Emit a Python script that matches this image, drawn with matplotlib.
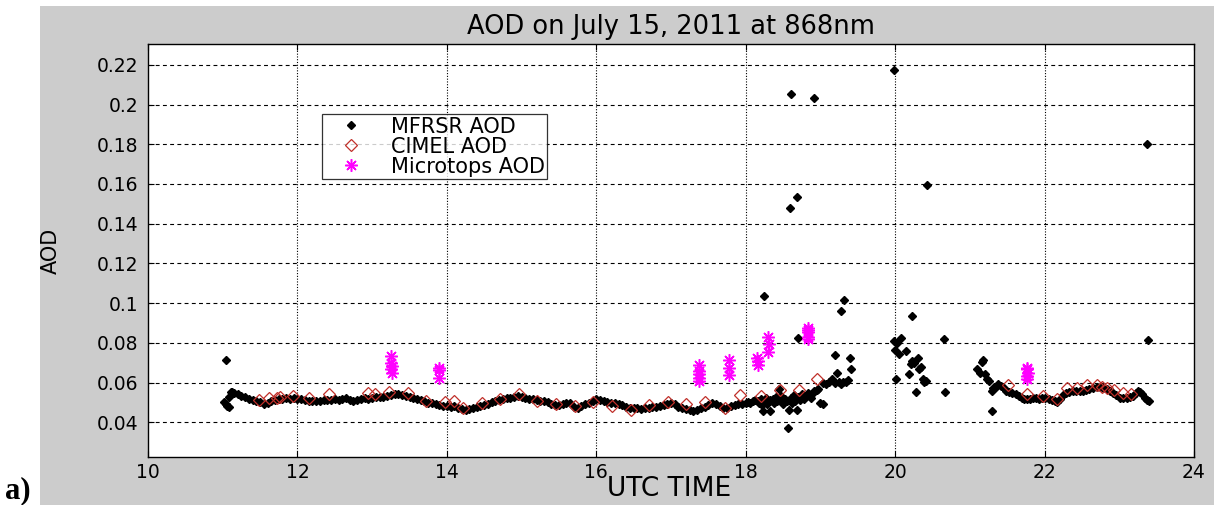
import matplotlib
matplotlib.use("Agg")
import matplotlib.pyplot as plt
from matplotlib.patches import Rectangle

# MFRSR: dense morning/afternoon record (UTC hours, AOD at 868 nm)
mfrsr_band_time = [
    11.15, 11.20, 11.25, 11.30, 11.35, 11.40, 11.45, 11.50, 11.55, 11.60,
    11.65, 11.70, 11.75, 11.80, 11.85, 11.90, 11.95, 12.00, 12.05, 12.10,
    12.15, 12.20, 12.25, 12.30, 12.35, 12.40, 12.45, 12.50, 12.55, 12.60,
    12.65, 12.70, 12.75, 12.80, 12.85, 12.90, 12.95, 13.00, 13.05, 13.10,
    13.15, 13.20, 13.25, 13.30, 13.35, 13.40, 13.45, 13.50, 13.55, 13.60,
    13.65, 13.70, 13.75, 13.80, 13.85, 13.90, 13.95, 14.00, 14.05, 14.10,
    14.15, 14.20, 14.25, 14.30, 14.35, 14.40, 14.45, 14.50, 14.55, 14.60,
    14.65, 14.70, 14.75, 14.80, 14.85, 14.90, 14.95, 15.00, 15.05, 15.10,
    15.15, 15.20, 15.25, 15.30, 15.35, 15.40, 15.45, 15.50, 15.55, 15.60,
    15.65, 15.70, 15.75, 15.80, 15.85, 15.90, 15.95, 16.00, 16.05, 16.10,
    16.15, 16.20, 16.25, 16.30, 16.35, 16.40, 16.45, 16.50, 16.55, 16.60,
    16.65, 16.70, 16.75, 16.80, 16.85, 16.90, 16.95, 17.00, 17.05, 17.10,
    17.15, 17.20, 17.25, 17.30, 17.35, 17.40, 17.45, 17.50, 17.55, 17.60,
    17.65, 17.70, 17.75, 17.80, 17.85, 17.90, 17.95,
]
mfrsr_band_aod = [
    0.0548, 0.0541, 0.0533, 0.0526, 0.0519, 0.0512, 0.0508, 0.0502, 0.0492, 0.0499,
    0.0509, 0.0514, 0.0519, 0.0516, 0.0521, 0.0518, 0.0522, 0.0519, 0.0515, 0.0512,
    0.0508, 0.0505, 0.0509, 0.0507, 0.0511, 0.0514, 0.0512, 0.0516, 0.0513, 0.0518,
    0.0521, 0.0512, 0.0505, 0.0510, 0.0516, 0.0520, 0.0517, 0.0522, 0.0526, 0.0529,
    0.0527, 0.0533, 0.0537, 0.0541, 0.0544, 0.0538, 0.0532, 0.0527, 0.0522, 0.0518,
    0.0511, 0.0506, 0.0499, 0.0495, 0.0491, 0.0488, 0.0484, 0.0481, 0.0477, 0.0482,
    0.0471, 0.0467, 0.0463, 0.0468, 0.0474, 0.0478, 0.0481, 0.0488, 0.0494, 0.0503,
    0.0508, 0.0512, 0.0516, 0.0521, 0.0524, 0.0528, 0.0531, 0.0529, 0.0524, 0.0519,
    0.0515, 0.0511, 0.0508, 0.0506, 0.0501, 0.0494, 0.0487, 0.0489, 0.0494, 0.0498,
    0.0496, 0.0478, 0.0472, 0.0481, 0.0490, 0.0497, 0.0509, 0.0519, 0.0514, 0.0508,
    0.0504, 0.0499, 0.0495, 0.0491, 0.0486, 0.0479, 0.0474, 0.0470, 0.0472, 0.0469,
    0.0471, 0.0474, 0.0477, 0.0479, 0.0482, 0.0488, 0.0494, 0.0499, 0.0493, 0.0478,
    0.0470, 0.0466, 0.0461, 0.0459, 0.0464, 0.0471, 0.0478, 0.0487, 0.0497, 0.0492,
    0.0483, 0.0474, 0.0472, 0.0481, 0.0487, 0.0491, 0.0494,
]

# MFRSR: start of record, cloudy afternoon scatter and isolated spikes
mfrsr_scatter_time = [
    11.02, 11.04, 11.06, 11.08, 11.09, 11.11, 11.13, 11.05,
    18.00, 18.03, 18.06, 18.10, 18.13, 18.16, 18.18, 18.20, 18.22, 18.23,
    18.25, 18.27, 18.29, 18.32, 18.33, 18.36, 18.38, 18.40, 18.42, 18.45,
    18.47, 18.50, 18.52, 18.55, 18.57, 18.58, 18.60, 18.62, 18.65, 18.66,
    18.68, 18.70, 18.72, 18.75, 18.78, 18.80, 18.83, 18.86, 18.88, 18.90,
    18.92, 18.95, 18.97, 19.00, 19.03, 19.04, 19.08, 19.12, 19.15, 19.20,
    19.22, 19.25, 19.27, 19.30, 19.34, 19.37, 19.41, 19.40, 19.20, 19.28,
    19.32, 18.70, 18.25, 18.59, 18.68, 18.60, 18.92, 19.98, 20.43, 23.37,
    23.38,
    19.99, 20.00, 20.01, 20.03, 20.05, 20.08, 20.14, 20.19, 20.21, 20.22,
    20.23, 20.25, 20.28, 20.30, 20.32, 20.34, 20.37, 20.39, 20.41, 20.65,
    20.67,
    21.09, 21.14, 21.16, 21.18, 21.20, 21.23, 21.26, 21.29, 21.30, 21.31,
    21.35, 21.38, 21.42, 21.46, 21.49, 21.53, 21.57, 21.62, 21.66, 21.70,
    21.73, 21.76, 21.80, 21.85, 21.89, 21.93, 21.97, 22.01, 22.06, 22.10,
    22.14, 22.17, 22.21, 22.25, 22.29, 22.33, 22.38, 22.42, 22.47, 22.51,
    22.56, 22.60, 22.65, 22.70, 22.74, 22.78, 22.83, 22.87, 22.92, 22.96,
    23.01, 23.05, 23.10, 23.15, 23.19, 23.22, 23.25, 23.28, 23.31, 23.34,
    23.37, 23.40,
]
mfrsr_scatter_aod = [
    0.0500, 0.0490, 0.0482, 0.0476, 0.0526, 0.0552, 0.0550, 0.0715,
    0.0497, 0.0502, 0.0499, 0.0508, 0.0512, 0.0505, 0.0496, 0.0515, 0.0489, 0.0455,
    0.0503, 0.0521, 0.0494, 0.0455, 0.0510, 0.0518, 0.0498, 0.0526, 0.0507, 0.0565,
    0.0532, 0.0490, 0.0515, 0.0505, 0.0370, 0.0464, 0.0520, 0.0497, 0.0535, 0.0506,
    0.0460, 0.0527, 0.0514, 0.0540, 0.0519, 0.0532, 0.0548, 0.0533, 0.0522, 0.0545,
    0.0555, 0.0560, 0.0568, 0.0495, 0.0490, 0.0599, 0.0594, 0.0605, 0.0616, 0.0599,
    0.0650, 0.0602, 0.0595, 0.0603, 0.0604, 0.0612, 0.0666, 0.0722, 0.0738, 0.0960,
    0.1016, 0.0826, 0.1036, 0.1480, 0.1536, 0.2052, 0.2033, 0.2176, 0.1597, 0.1802,
    0.0813,
    0.0809, 0.0764, 0.0620, 0.0800, 0.0745, 0.0826, 0.0758, 0.0641, 0.0692, 0.0937,
    0.0708, 0.0700, 0.0553, 0.0722, 0.0666, 0.0680, 0.0616, 0.0604, 0.0610, 0.0818,
    0.0553,
    0.0666, 0.0650, 0.0705, 0.0712, 0.0643, 0.0616, 0.0610, 0.0555, 0.0459, 0.0573,
    0.0580, 0.0593, 0.0585, 0.0570, 0.0556, 0.0552, 0.0546, 0.0540, 0.0532, 0.0524,
    0.0518, 0.0515, 0.0518, 0.0521, 0.0520, 0.0518, 0.0520, 0.0522, 0.0519, 0.0513,
    0.0507, 0.0503, 0.0518, 0.0538, 0.0548, 0.0553, 0.0556, 0.0555, 0.0557, 0.0558,
    0.0563, 0.0568, 0.0573, 0.0578, 0.0580, 0.0574, 0.0565, 0.0556, 0.0548, 0.0535,
    0.0522, 0.0520, 0.0521, 0.0525, 0.0531, 0.0548, 0.0558, 0.0552, 0.0540, 0.0522,
    0.0514, 0.0508,
]

cimel_time = [
    11.48, 11.62, 11.73, 11.77, 11.94, 12.16, 12.42, 12.94, 13.04, 13.22,
    13.48, 13.72, 13.97, 14.09, 14.22, 14.47, 14.71, 14.96, 15.20, 15.46,
    15.72, 15.96, 16.21, 16.47, 16.71, 16.96, 17.20, 17.45, 17.72, 17.92,
    18.21, 18.46, 18.71, 18.96, 21.51, 21.76, 21.98, 22.16, 22.30, 22.44,
    22.57, 22.70, 22.77, 22.84, 22.93, 23.05, 23.16,
]
cimel_aod = [
    0.0510, 0.0520, 0.0523, 0.0525, 0.0530, 0.0520, 0.0543, 0.0548, 0.0543, 0.0552,
    0.0545, 0.0506, 0.0503, 0.0506, 0.0470, 0.0498, 0.0515, 0.0543, 0.0506, 0.0490,
    0.0480, 0.0503, 0.0480, 0.0464, 0.0486, 0.0503, 0.0492, 0.0503, 0.0472, 0.0538,
    0.0530, 0.0562, 0.0562, 0.0619, 0.0590, 0.0540, 0.0531, 0.0518, 0.0570, 0.0570,
    0.0590, 0.0590, 0.0578, 0.0570, 0.0562, 0.0548, 0.0543,
]

microtops_time = [
    13.25, 13.25, 13.26, 13.25, 13.26,
    13.89, 13.89, 13.89,
    17.37, 17.37, 17.38, 17.37, 17.38,
    17.78, 17.78, 17.78,
    18.15, 18.16, 18.17,
    18.30, 18.31, 18.30,
    18.83, 18.84, 18.83, 18.84, 18.83,
    21.77, 21.77, 21.78, 21.77, 21.77,
]
microtops_aod = [
    0.0733, 0.0700, 0.0685, 0.0670, 0.0650,
    0.0671, 0.0663, 0.0624,
    0.0690, 0.0657, 0.0641, 0.0625, 0.0610,
    0.0712, 0.0671, 0.0637,
    0.0725, 0.0708, 0.0690,
    0.0831, 0.0792, 0.0754,
    0.0876, 0.0866, 0.0853, 0.0830, 0.0818,
    0.0675, 0.0667, 0.0650, 0.0632, 0.0620,
]

x_ticks = [10, 12, 14, 16, 18, 20, 22, 24]
y_ticks = [0.04, 0.06, 0.08, 0.1, 0.12, 0.14, 0.16, 0.18, 0.2, 0.22]
y_tick_labels = ["0.04", "0.06", "0.08", "0.1", "0.12", "0.14", "0.16", "0.18", "0.2", "0.22"]

W, H = 1230, 505
plt.rcParams["font.family"] = ["DejaVu Sans"]

fig = plt.figure(figsize=(W / 100, H / 100), dpi=100)
fig.patch.set_facecolor("white")
# matlab-style grey figure panel, white margin on the left for the panel letter
fig.patches.append(Rectangle((40 / W, 0), (1214 - 40) / W, (H - 6) / H,
                             transform=fig.transFigure, facecolor="#cccccc",
                             edgecolor="none", zorder=-10))

ax = fig.add_axes([148 / W, 1 - 457 / H, (1194 - 148) / W, (457 - 44) / H])
ax.set_facecolor("white")

ax.plot(mfrsr_band_time + mfrsr_scatter_time, mfrsr_band_aod + mfrsr_scatter_aod,
        linestyle="none", marker="D", markersize=4.0, color="black", label="MFRSR AOD")
ax.plot(cimel_time, cimel_aod, linestyle="none", marker="D", markersize=6.5,
        markerfacecolor="none", markeredgecolor="#c0302a", markeredgewidth=0.9,
        label="CIMEL AOD")
ax.plot(microtops_time, microtops_aod, linestyle="none", marker=(8, 2, 0), markersize=9,
        color="#ff00ff", markeredgewidth=1.1, label="Microtops AOD")

ax.set_xlim(10, 24)
ax.set_ylim(0.0225, 0.2305)
ax.set_xticks(x_ticks)
ax.set_yticks(y_ticks)
ax.set_yticklabels(y_tick_labels)

for y in y_ticks:
    ax.axhline(y, color="black", linewidth=0.8, linestyle=(0, (3.5, 3)), zorder=0)
for x in x_ticks[1:-1]:
    ax.axvline(x, color="black", linewidth=0.8, linestyle=(0, (1, 1.5)), zorder=0)

ax.tick_params(direction="in", length=4, top=True, right=True, labelsize=13.5, color="black")
ax.tick_params(axis="y", pad=7)
ax.tick_params(axis="x", pad=4)
for sp in ax.spines.values():
    sp.set_linewidth(1.0)
    sp.set_color("black")

ax.set_title("AOD on July 15, 2011 at 868nm", fontsize=18.5, pad=7)
ax.set_xlabel("UTC TIME", fontsize=19)
ax.xaxis.set_label_coords(0.498, -0.045)
ax.set_ylabel("AOD", fontsize=15)
ax.yaxis.set_label_coords(-0.083, 0.5)

leg = ax.legend(loc="upper left", bbox_to_anchor=(0.166, 0.83), fontsize=15,
                frameon=True, fancybox=False, borderpad=0.12, labelspacing=0.0,
                handletextpad=0.6, handlelength=2.6, borderaxespad=0)
leg.get_frame().set_edgecolor("black")
leg.get_frame().set_linewidth(0.9)

fig.text(5 / W, 1 - 498 / H, "a)", fontsize=22, fontweight="bold",
         family=["Liberation Serif", "DejaVu Serif"], ha="left", va="baseline")

fig.savefig("out.png", dpi=100)
